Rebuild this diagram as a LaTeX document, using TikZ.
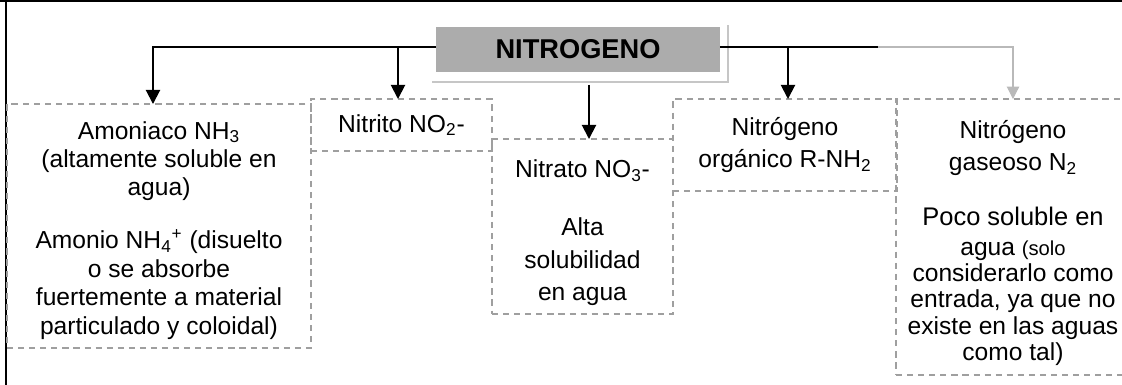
\documentclass[tikz,border=0pt]{standalone}
\usepackage{fontspec}
\setmainfont{Liberation Sans}
\usepackage{tikz}
\usetikzlibrary{arrows.meta}

\begin{document}
\begin{tikzpicture}[x=0.02cm,y=-0.02cm,
    caja/.style={draw=gray!75, dashed, dash pattern=on 3.5pt off 2.8pt, line width=0.8pt,
        align=center, inner sep=0pt, outer sep=0pt, font=\fontsize{14}{16.2}\selectfont},
    flecha/.style={line width=1.1pt, -{Triangle[width=8pt,length=8pt]}},
    gris/.style={gray!55, line width=0.6pt, -{Triangle[width=7pt,length=7pt]}}]

\useasboundingbox (0,0) rectangle (1122,385);

% Frame
\draw[line width=1.6pt] (0,1) -- (1122,1);
\draw[line width=1.2pt] (6,0) -- (6,385);

% Main box
\draw[gray!45, line width=0.8pt] (432,82) -- (728,82) -- (728,25);
\node[fill=gray!65, minimum width=5.68cm, minimum height=0.9cm, outer sep=0pt,
    font=\fontsize{15.5}{18}\selectfont\bfseries] (nitro) at (578,49.5) {NITROGENO};

% Forms
\node[caja, minimum width=6.08cm, minimum height=4.88cm] (amon) at (159,226)
    {\rule{0pt}{15pt}Amoniaco NH\textsubscript{3}\\(altamente soluble en\\agua)\\[13.9pt]
     Amonio NH\textsubscript{4}\textsuperscript{+} (disuelto\\o se absorbe\\
     fuertemente a material\\particulado y coloidal)};
\node[caja, minimum width=3.62cm, minimum height=1.04cm] (nitrito) at (401.5,125)
    {Nitrito NO\textsubscript{2}-};
\node[caja, minimum width=3.62cm, minimum height=3.5cm, font=\fontsize{14}{18.4}\selectfont] (nitrato) at (582.5,226.5)
    {\rule{0pt}{17pt}Nitrato NO\textsubscript{3}-\\[15pt]Alta\\solubilidad\\en agua};
\node[caja, minimum width=4.48cm, minimum height=1.84cm, font=\fontsize{14}{18.6}\selectfont] (organico) at (785,145)
    {Nitrógeno\\orgánico R-NH\textsubscript{2}};
\node[caja, minimum width=4.68cm, minimum height=5.52cm, font=\fontsize{14}{15}\selectfont] (gaseoso) at (1013,237)
    {\rule{0pt}{17pt}Nitrógeno\\[3.7pt]gaseoso N\textsubscript{2}\\[16pt]
     \fontsize{14.5}{15}\selectfont Poco soluble en\\[2pt]
     agua \fontsize{11.5}{15}\selectfont (solo\\considerarlo como\\entrada, ya que no\\
     existe en las aguas\\como tal)};

% Branches
\coordinate (izq) at (153,47);
\coordinate (nit2) at (398,47);
\coordinate (bajo) at (589,85);
\coordinate (org) at (788,47);
\coordinate (corte) at (878,47);
\coordinate (der) at (1013,47);

\draw[flecha] (nitro.west |- izq) -- (izq) -- (izq |- amon.north);
\draw[flecha] (nit2) -- (nit2 |- nitrito.north);
\draw[flecha] (bajo) -- (bajo |- nitrato.north);
\draw[line width=1.1pt] (nitro.east |- corte) -- (corte);
\draw[flecha] (org) -- (org |- organico.north);
\draw[gris] (corte) -- (der) -- (der |- gaseoso.north);

\end{tikzpicture}
\end{document}
